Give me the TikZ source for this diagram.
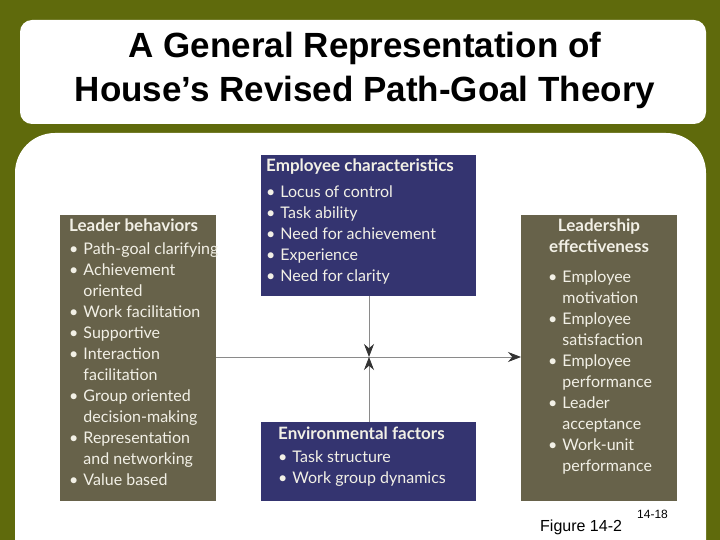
\documentclass[tikz,border=0pt]{standalone}
\usepackage{fontspec}
\setmainfont{Lato}
\newfontfamily\arial{Liberation Sans}
\usetikzlibrary{arrows.meta}
\definecolor{bgolive}{HTML}{5F6A0C}
\definecolor{boxgray}{HTML}{67624A}
\definecolor{boxnavy}{HTML}{343470}
\definecolor{lineg}{HTML}{8A8A8A}
\definecolor{txt}{HTML}{F2F0E6}
\newcommand{\bx}{\fontsize{16}{21}\selectfont}
\tikzset{
 btxt/.style={anchor=north west,inner sep=0pt,text=txt,font=\bx,align=left},
 conn/.style={draw=lineg,line width=0.8pt,-{Stealth[length=13pt,width=10pt,color=black!80]}},
}
\newcommand{\hd}[1]{{\fontsize{17}{21}\selectfont\bfseries #1}}
\begin{document}
\begin{tikzpicture}[x=1pt,y=-1pt]
\fill[bgolive] (0,0) rectangle (720,540);
\useasboundingbox (0,0) rectangle (720,540);
\fill[white,rounded corners=12pt] (20,20) rectangle (706,124);
\fill[white,rounded corners=40pt] (15,133) rectangle (706,600);
\node[font=\arial\bfseries\fontsize{35}{44}\selectfont,align=center] (title) at (365,70)
 {A General Representation of\\House’s Revised Path-Goal Theory};
% boxes
\fill[boxgray] (60,215) rectangle (216,501);
\fill[boxnavy] (261,155) rectangle (476,296);
\fill[boxnavy] (261,422) rectangle (476,501);
\fill[boxgray] (521,215) rectangle (677,501);
\coordinate (lb) at (216,357);
\coordinate (le) at (521,357);
\coordinate (ec) at (369,296);
\coordinate (ef) at (369,422);
\coordinate (c1) at (369,357);
\node[btxt] (lbt) at (69,219) {\hd{Leader behaviors}\\[7pt]
\begin{tabular}{@{}l@{\hspace{5pt}}l@{}}
• & Path-goal clarifying\\
• & Achievement\\ & oriented\\
• & Work facilitation\\
• & Supportive\\
• & Interaction\\ & facilitation\\
• & Group oriented\\ & decision-making\\
• & Representation\\ & and networking\\
• & Value based
\end{tabular}};
\node[btxt] (ect) at (266,159) {\hd{Employee characteristics}\\[7pt]
\begin{tabular}{@{}l@{\hspace{5pt}}l@{}}
• & Locus of control\\
• & Task ability\\
• & Need for achievement\\
• & Experience\\
• & Need for clarity
\end{tabular}};
\node[btxt] (eft) at (278,427) {\hd{Environmental factors}\\[7pt]
\begin{tabular}{@{}l@{\hspace{5pt}}l@{}}
• & Task structure\\
• & Work group dynamics
\end{tabular}};
\node[btxt,anchor=north,align=center] (let) at (599,219) {\hd{Leadership}\\\hd{effectiveness}};
\node[btxt] (lei) at (548,268)
{\begin{tabular}{@{}l@{\hspace{5pt}}l@{}}
• & Employee\\ & motivation\\
• & Employee\\ & satisfaction\\
• & Employee\\ & performance\\
• & Leader\\ & acceptance\\
• & Work-unit\\ & performance
\end{tabular}};
\draw[conn] (lb) -- (le);
\draw[conn] (ec) -- (c1);
\draw[conn] (ef) -- (c1);
\node[font=\arial\fontsize{16}{18}\selectfont,anchor=base west,inner sep=0pt] (fig) at (540,531) {Figure 14-2};
\node[font=\arial\fontsize{12}{14}\selectfont,anchor=base west,inner sep=0pt] (pg) at (637,518) {14-18};
\end{tikzpicture}
\end{document}
